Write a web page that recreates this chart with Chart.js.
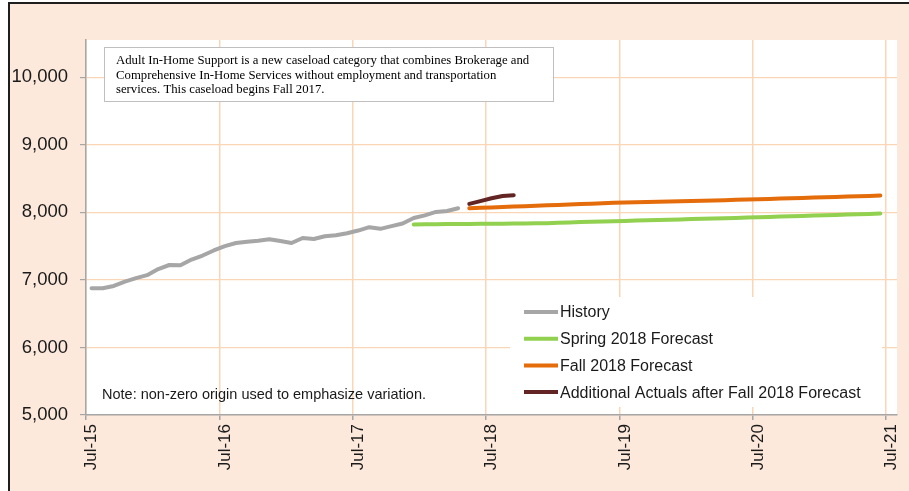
<!DOCTYPE html>
<html>
<head>
<meta charset="utf-8">
<script src="https://cdn.jsdelivr.net/npm/chart.js@4.4.1/dist/chart.umd.min.js"></script>
<style>
  html, body { margin: 0; padding: 0; background: #ffffff; }
  body { width: 909px; height: 491px; position: relative; overflow: hidden; }
  .frame {
    position: absolute; left: 8px; top: 2px; right: 0; bottom: 0;
    background: #fde9db; border-left: 2px solid #1e1e1e; border-top: 2px solid #1e1e1e;
  }
  #chart { position: absolute; left: 0; top: 0; }
</style>
</head>
<body>
<div class="frame"></div>
<canvas id="chart" width="909" height="491"></canvas>
<script>
// Monthly categories Jul-15 .. Jul-21
const monthNames = ['Jan', 'Feb', 'Mar', 'Apr', 'May', 'Jun', 'Jul', 'Aug', 'Sep', 'Oct', 'Nov', 'Dec'];
const categories = [];
for (let i = 0; i < 73; i++) {
  categories.push(monthNames[(6 + i) % 12] + '-' + (15 + Math.floor((6 + i) / 12)));
}

// Series values, with the month index where each starts
const historyStart = 0;
const historyValues = [6875, 6875, 6910, 6975, 7025, 7070, 7160, 7220, 7215, 7300, 7360, 7435,
  7500, 7545, 7565, 7580, 7600, 7575, 7545, 7620, 7605, 7645, 7660, 7690,
  7730, 7780, 7755, 7795, 7835, 7915, 7955, 8005, 8020, 8060];

const springStart = 29;
const springValues = [7820, 7822, 7823, 7825, 7826, 7828, 7829, 7831, 7832, 7834, 7835, 7837, 7838,
  7846, 7850, 7855, 7859, 7864, 7869, 7873, 7877, 7882, 7886, 7891, 7895, 7900, 7904, 7908,
  7913, 7917, 7922, 7927, 7932, 7937, 7942, 7947, 7951, 7956, 7961, 7966, 7971, 7976, 7981];

const fallStart = 34;
const fallValues = [8060, 8066, 8072, 8078, 8085, 8091, 8097, 8103, 8109, 8115, 8122, 8128, 8134,
  8140, 8144, 8148, 8152, 8156, 8160, 8164, 8168, 8172, 8176, 8180, 8184, 8188,
  8193, 8198, 8203, 8208, 8213, 8218, 8223, 8228, 8233, 8238, 8243, 8248];

const actualsStart = 34;
const actualsValues = [8125, 8165, 8208, 8240, 8252];

// Y tick labels
const yTicks = [5000, 6000, 7000, 8000, 9000, 10000];

const noteText = 'Note: non-zero origin used to emphasize variation.';
const boxLines = [
  'Adult In-Home Support is a new caseload category that combines Brokerage and',
  'Comprehensive In-Home Services without employment and transportation',
  'services. This caseload begins Fall 2017.'
];

function pad(start, values) {
  return Array(start).fill(null).concat(values);
}

const FONT = '"Liberation Sans", Arial, sans-serif';
const GRID = '#fbd6b6';
const AXIS = '#a6a6a6';

// Plot background, text boxes and legend
const decorPlugin = {
  id: 'decor',
  beforeDraw(chart) {
    const { ctx, chartArea: a } = chart;
    ctx.save();
    ctx.fillStyle = '#ffffff';
    ctx.fillRect(a.left, a.top, a.right - a.left, a.bottom - a.top);
    ctx.restore();
  },
  afterDraw(chart) {
    const ctx = chart.ctx;
    ctx.save();

    // description box
    ctx.fillStyle = '#ffffff';
    ctx.fillRect(104, 47, 449, 54);
    ctx.strokeStyle = '#bfbfbf';
    ctx.lineWidth = 1;
    ctx.strokeRect(104.5, 47.5, 449, 54);
    ctx.fillStyle = '#000000';
    ctx.font = '12.75px "Liberation Serif", "Times New Roman", serif';
    ctx.textBaseline = 'middle';
    boxLines.forEach((t, i) => ctx.fillText(t, 116, 61 + i * 14.5));

    // note
    ctx.font = '14.5px ' + FONT;
    ctx.fillStyle = '#1a1a1a';
    ctx.fillText(noteText, 102, 395);

    // legend
    ctx.fillStyle = '#ffffff';
    ctx.fillRect(510, 297, 372, 110);
    ctx.font = '16px ' + FONT;
    ctx.lineCap = 'butt';
    chart.data.datasets.forEach((ds, i) => {
      const y = 312 + i * 26.7;
      ctx.strokeStyle = ds.borderColor;
      ctx.lineWidth = 4;
      ctx.beginPath();
      ctx.moveTo(524, y);
      ctx.lineTo(558, y);
      ctx.stroke();
      ctx.fillStyle = '#1a1a1a';
      ctx.fillText(ds.label, 560, y + 1);
    });
    ctx.restore();
  }
};

const ctx = document.getElementById('chart');
new Chart(ctx, {
  type: 'line',
  data: {
    labels: categories,
    datasets: [
      { label: 'History', data: pad(historyStart, historyValues), borderColor: '#a6a6a6' },
      { label: 'Spring 2018 Forecast', data: pad(springStart, springValues), borderColor: '#92d050' },
      { label: 'Fall 2018 Forecast', data: pad(fallStart, fallValues), borderColor: '#e46c0a' },
      { label: 'Additional Actuals after Fall 2018 Forecast', data: pad(actualsStart, actualsValues), borderColor: '#632523' }
    ].map(d => Object.assign(d, {
      borderWidth: 4, pointRadius: 0, tension: 0, fill: false,
      borderCapStyle: 'round', borderJoinStyle: 'round'
    }))
  },
  options: {
    responsive: false,
    animation: false,
    layout: { padding: { left: 0, right: 12, top: 40, bottom: 0 } },
    plugins: { legend: { display: false }, tooltip: { enabled: false } },
    scales: {
      x: {
        type: 'category',
        offset: true,
        afterFit: s => { s.height = 76; s.paddingLeft = 0; s.paddingRight = 0; },
        grid: {
          offset: true,
          lineWidth: 1.5,
          tickLength: 5,
          color: c => (c.index % 12 === 0 ? GRID : 'rgba(0,0,0,0)'),
          tickColor: c => (c.index % 12 === 0 ? AXIS : 'rgba(0,0,0,0)')
        },
        border: { color: AXIS, width: 1.5 },
        ticks: {
          autoSkip: false,
          minRotation: 90,
          maxRotation: 90,
          padding: 4,
          color: '#1a1a1a',
          font: { family: FONT, size: 17 },
          callback: function (v) {
            const l = this.getLabelForValue(v);
            return l.startsWith('Jul') ? l : '';
          }
        }
      },
      y: {
        min: 5000,
        max: 10550,
        afterFit: s => { s.width = 86; },
        afterBuildTicks: s => { s.ticks = yTicks.map(v => ({ value: v })); },
        grid: { color: GRID, lineWidth: 1.2, tickLength: 6, tickColor: AXIS },
        border: { color: AXIS, width: 1.5 },
        ticks: {
          padding: 12,
          color: '#1a1a1a',
          font: { family: FONT, size: 18.5 },
          callback: v => v.toLocaleString('en-US')
        }
      }
    }
  },
  plugins: [decorPlugin]
});
</script>
</body>
</html>
